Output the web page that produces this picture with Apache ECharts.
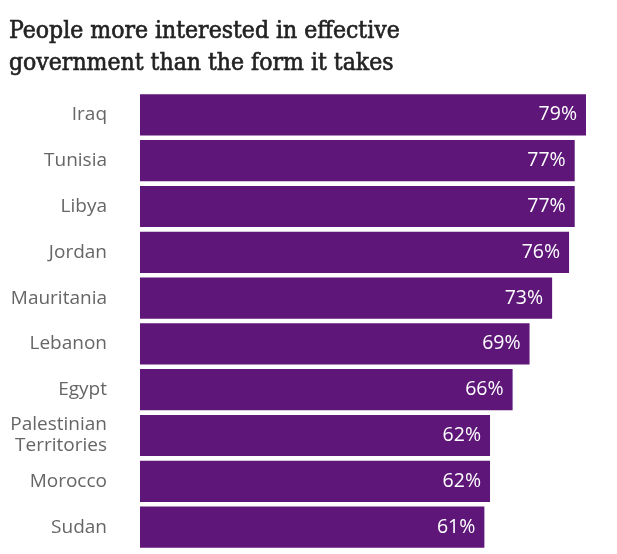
<!DOCTYPE html>
<html><head><meta charset="utf-8">
<script src="https://cdn.jsdelivr.net/npm/echarts@6/dist/echarts.min.js"></script>
<style>html,body{margin:0;padding:0;background:#fff}#c{width:617px;height:554px}</style>
</head><body><div id="c"></div>
<script>
const categories = ['Iraq','Tunisia','Libya','Jordan','Mauritania','Lebanon','Egypt','Palestinian\nTerritories','Morocco','Sudan'];
const values = [79,77,77,76,73,69,66,62,62,61];
const titleLines = 'People more interested in effective\ngovernment than the form it takes';

const chart = echarts.init(document.getElementById('c'));
chart.setOption({
  animation:false,
  title:{text:titleLines,left:4,top:11,textStyle:{fontFamily:'DejaVu Serif Condensed',fontSize:24.5,fontWeight:'normal',color:'#222',lineHeight:32,textBorderColor:'#222',textBorderWidth:0.6}},
  grid:{left:140,right:31,top:92,bottom:4},
  xAxis:{type:'value',min:0,max:79,show:false},
  yAxis:{type:'category',data:categories,inverse:true,axisLine:{show:false},axisTick:{show:false},
    axisLabel:{color:'#666',fontFamily:'Open Sans',fontSize:19,margin:33,lineHeight:21}},
  series:[{type:'bar',data:values,barCategoryGap:'10%',itemStyle:{color:'#5e1679'},
    label:{show:true,position:'insideRight',distance:9,formatter:'{c}%',color:'#fff',fontFamily:'Open Sans',fontSize:19.5}}]
});
</script></body></html>
